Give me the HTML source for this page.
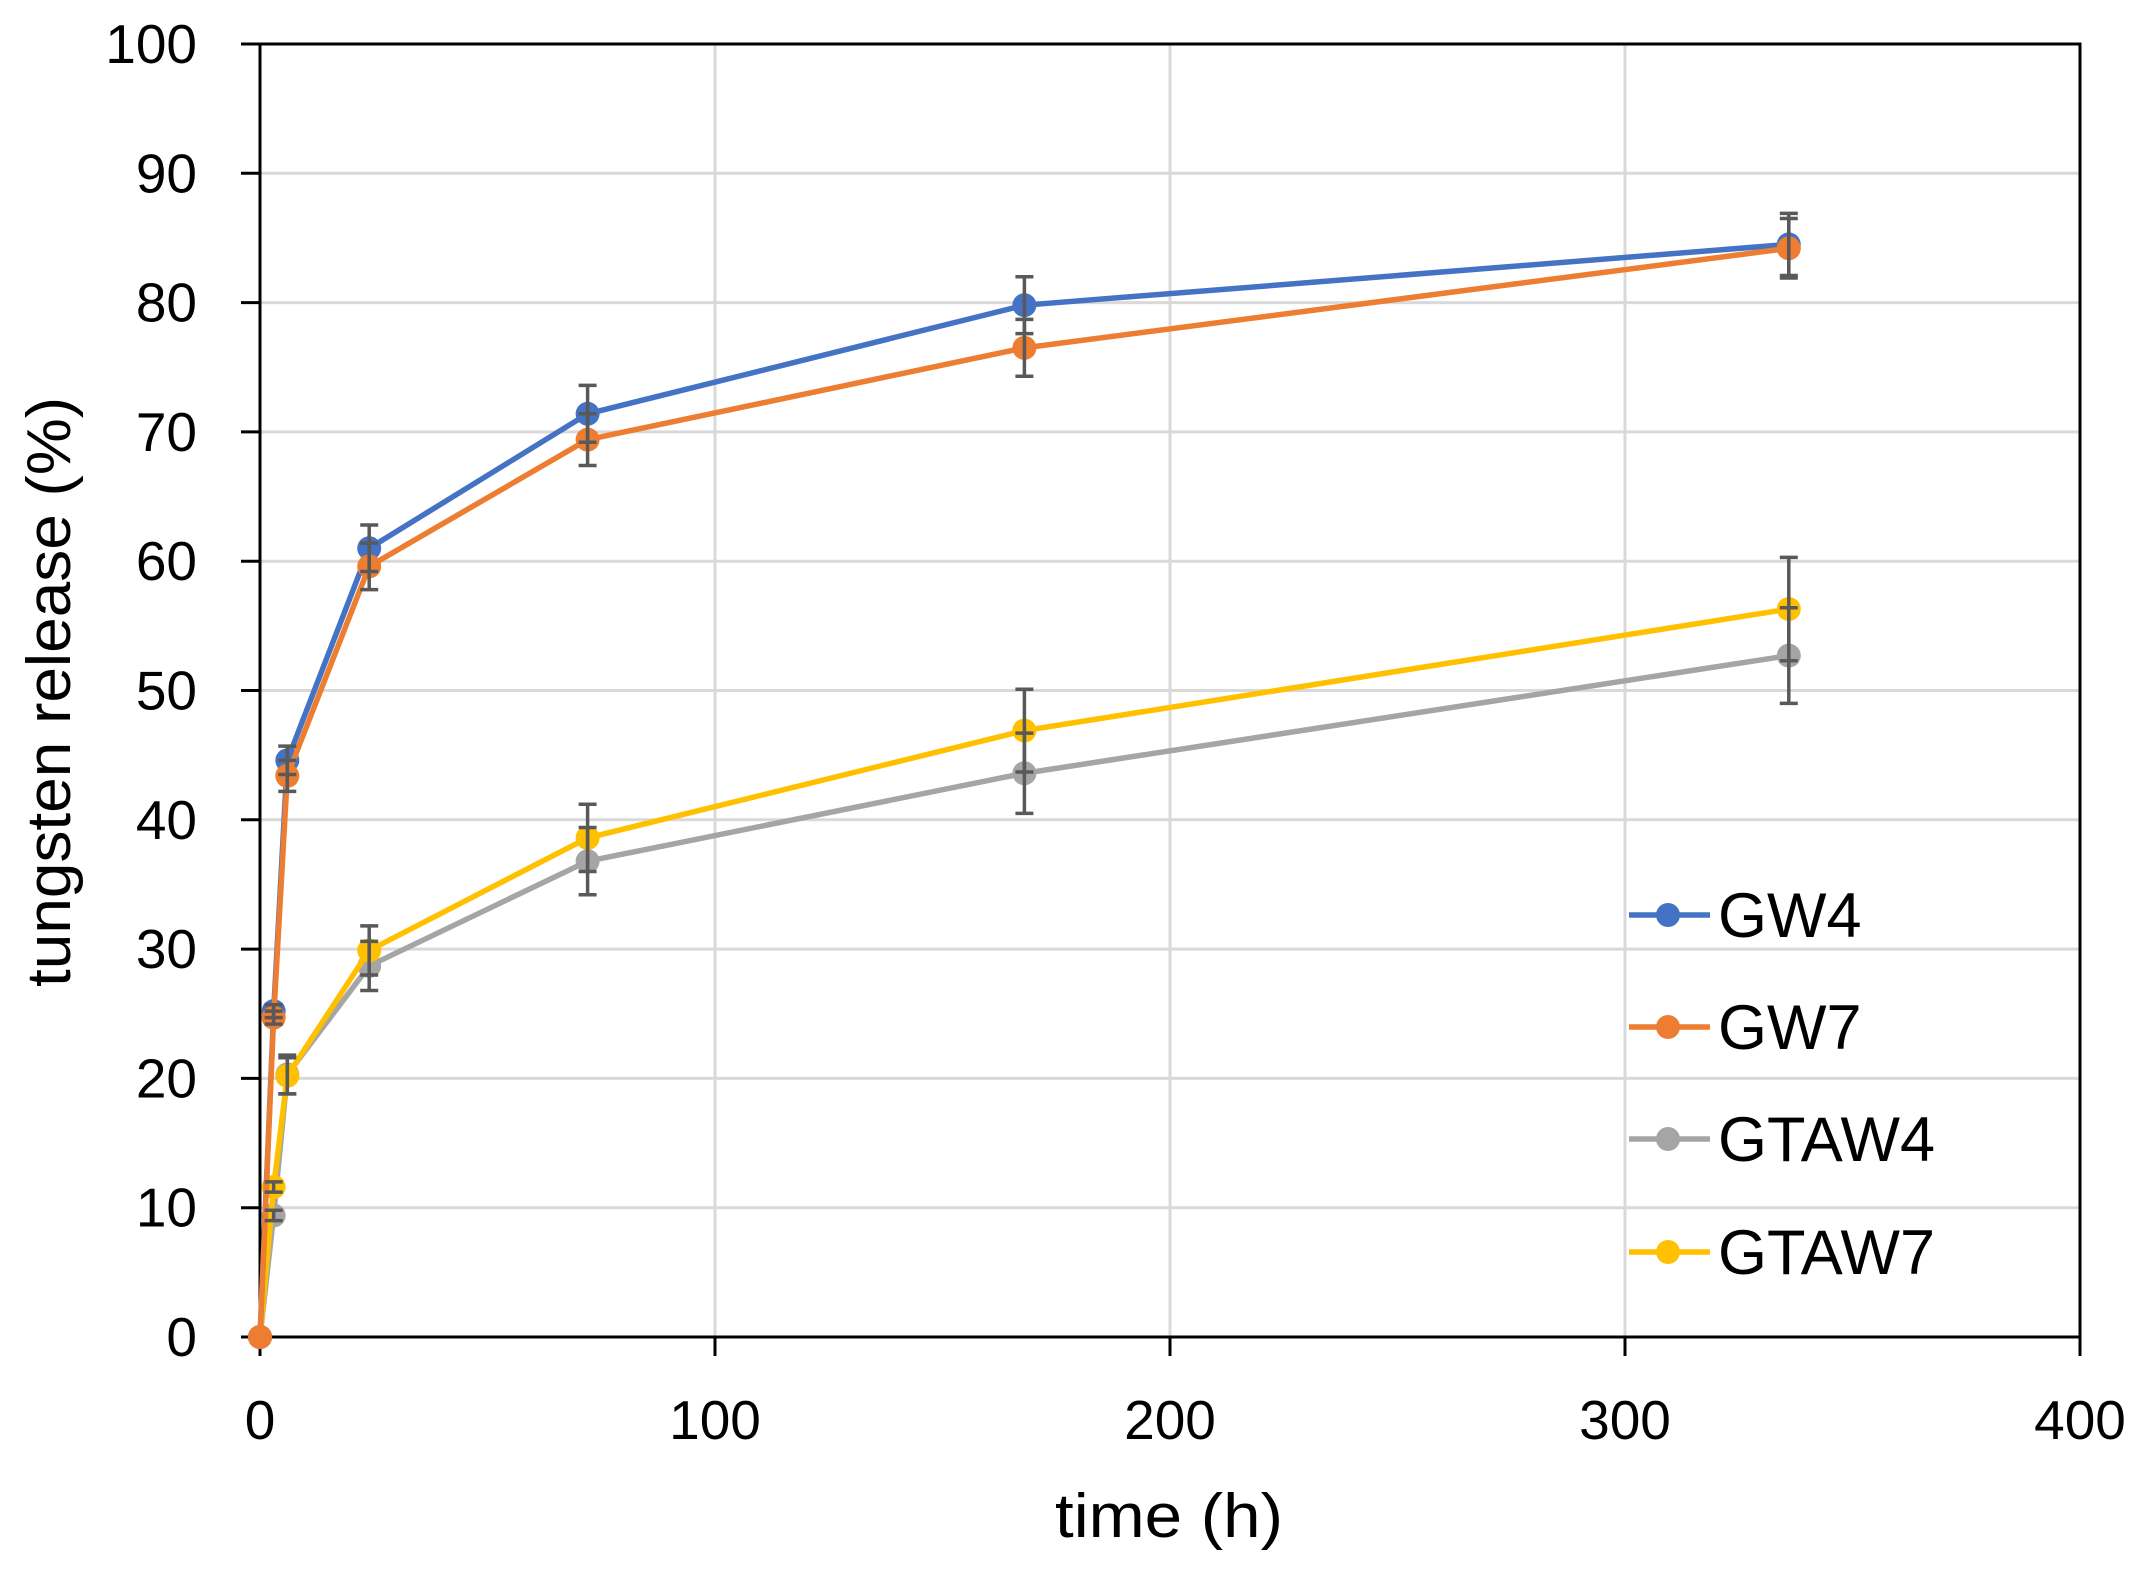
<!DOCTYPE html>
<html><head><meta charset="utf-8"><style>
html,body{margin:0;padding:0;background:#fff}
svg{display:block;font-family:"Liberation Sans",sans-serif}
</style></head><body>
<svg id="chart" width="2145" height="1572" viewBox="0 0 2145 1572" xmlns="http://www.w3.org/2000/svg">
<rect width="2145" height="1572" fill="#fff"/>
<g id="grid"></g>
<g id="axes"></g>
<g id="series"></g>
<g id="legend"></g>
<text x="1169" y="1537" font-size="62" text-anchor="middle" textLength="228" lengthAdjust="spacingAndGlyphs">time (h)</text>
<text transform="translate(70,692) rotate(-90)" font-size="62" text-anchor="middle" textLength="590" lengthAdjust="spacingAndGlyphs">tungsten release (%)</text>
</svg>
<script>
const times = [0, 3, 6, 24, 72, 168, 336];
const seriesNames = ["GW4", "GW7", "GTAW4", "GTAW7"];
const gw4 = [0, 25.2, 44.6, 61.0, 71.4, 79.8, 84.5];
const gw7 = [0, 24.7, 43.4, 59.6, 69.4, 76.5, 84.2];
const gtaw4 = [0, 9.4, 20.3, 28.7, 36.8, 43.6, 52.7];
const gtaw7 = [0, 11.6, 20.2, 29.9, 38.6, 46.9, 56.3];
const gw4Err = [0, 0.5, 1.1, 1.8, 2.2, 2.2, 2.4];
const gw7Err = [0, 0.5, 1.2, 1.8, 2.0, 2.2, 2.3];
const gtaw4Err = [0, 0.4, 1.5, 1.9, 2.6, 3.1, 3.7];
const gtaw7Err = [0, 0.4, 1.4, 1.9, 2.6, 3.2, 4.0];
const xTicks = [0, 100, 200, 300, 400];
const yTicks = [0, 10, 20, 30, 40, 50, 60, 70, 80, 90, 100];

const NS = "http://www.w3.org/2000/svg";
const X0 = 260, X1 = 2080, Y0 = 1337, Y1 = 44;
const xs = v => X0 + (v - 0) / 400 * (X1 - X0);
const ys = v => Y0 - (v - 0) / 100 * (Y0 - Y1);
function mk(tag, attrs, parent){const e=document.createElementNS(NS,tag);for(const k in attrs)e.setAttribute(k,attrs[k]);parent.appendChild(e);return e;}
const grid=document.getElementById('grid'), axes=document.getElementById('axes'), ser=document.getElementById('series'), leg=document.getElementById('legend');

yTicks.forEach(t=>{
  if(t>0&&t<100){const l=mk('line',{x1:X0,x2:X1,y1:ys(t),y2:ys(t),stroke:'#d9d9d9','stroke-width':3},grid);
  
  }
  const tk=mk('line',{x1:241,x2:X0,y1:ys(t),y2:ys(t),stroke:'#000','stroke-width':3},axes);
  
  
  const tx=mk('text',{x:197,y:ys(t)+19,'font-size':55,'text-anchor':'end'},axes);
  tx.textContent=t;
  
  
});
xTicks.forEach(t=>{
  if(t>0&&t<400){const l=mk('line',{x1:xs(t),x2:xs(t),y1:Y1,y2:Y0,stroke:'#d9d9d9','stroke-width':3},grid);
  
  }
  const tk=mk('line',{x1:xs(t),x2:xs(t),y1:Y0,y2:1356,stroke:'#000','stroke-width':3},axes);
  
  
  const tx=mk('text',{x:xs(t),y:1439,'font-size':55,'text-anchor':'middle'},axes);
  tx.textContent=t;
  
  
});
const frame=mk('rect',{x:X0,y:Y1,width:X1-X0,height:Y0-Y1,fill:'none',stroke:'#000','stroke-width':3},axes);



const data=[gw4,gw7,gtaw4,gtaw7], errs=[gw4Err,gw7Err,gtaw4Err,gtaw7Err];
const colors=['#4472c4','#ed7d31','#a5a5a5','#ffc000'];
const order=[2,3,0,1];
order.forEach(i=>{
  const g=mk('g',{},ser);
  
  
  const pts=times.map((t,j)=>xs(t)+','+ys(data[i][j])).join(' ');
  const pl=mk('polyline',{points:pts,fill:'none',stroke:colors[i],'stroke-width':5.5,'stroke-linejoin':'round'},g);
  
  
  times.forEach((t,j)=>{
    const c=mk('circle',{cx:xs(t),cy:ys(data[i][j]),r:12,fill:colors[i]},g);
    
    
  });
});
order.forEach(i=>{
  times.forEach((t,j)=>{
    const e=errs[i][j]; if(!e) return;
    const x=xs(t), yt=ys(data[i][j]+e), yb=ys(data[i][j]-e);
    const p=mk('path',{d:`M${x},${yt}V${yb}M${x-9},${yt}H${x+9}M${x-9},${yb}H${x+9}`,stroke:'#595959','stroke-width':3.5,fill:'none'},ser);
    
    
  });
});

const legY=[915,1027,1139,1252];
seriesNames.forEach((n,i)=>{
  const g=mk('g',{},leg);
  
  
  mk('rect',{x:1629,y:legY[i]-25,width:340,height:50,fill:'#fff'},g);
  mk('line',{x1:1629,x2:1710,y1:legY[i],y2:legY[i],stroke:colors[i],'stroke-width':5.5},g);
  mk('circle',{cx:1668,cy:legY[i],r:12,fill:colors[i]},g);
  const tx=mk('text',{x:1718,y:legY[i]+22,'font-size':63},g);
  tx.textContent=n;
});
</script>
</body></html>
